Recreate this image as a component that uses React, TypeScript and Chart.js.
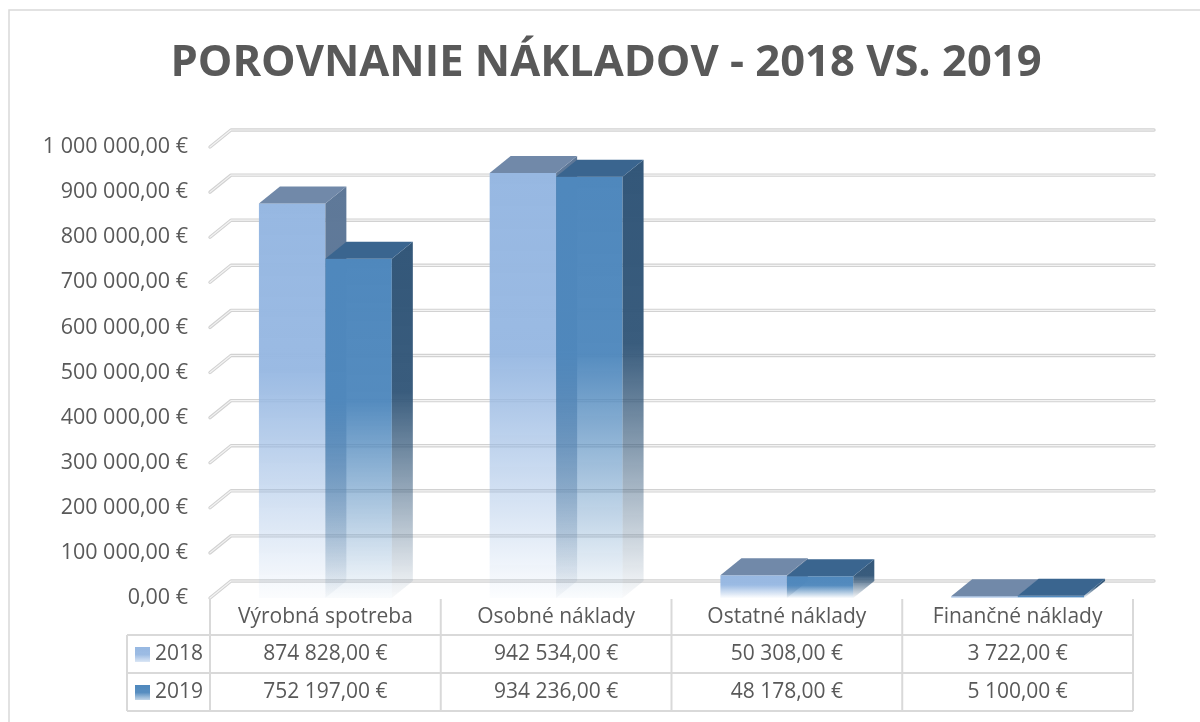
import React, { useEffect, useRef } from "react";
import { Chart, registerables } from "chart.js";

Chart.register(...registerables);

// ---- data ----
const categories = ["Výrobná spotreba", "Osobné náklady", "Ostatné náklady", "Finančné náklady"];
const seriesNames = ["2018", "2019"];
const values2018 = [874828, 942534, 50308, 3722];
const values2019 = [752197, 934236, 48178, 5100];
const yMin = 0;
const yMax = 1000000;
const yStep = 100000;
const chartTitle = "POROVNANIE NÁKLADOV - 2018 VS. 2019";

// ---- style ----
const FONT = "'Open Sans', 'DejaVu Sans', sans-serif";
const TEXT = "#595959";
const DX = 21;
const DY = -17;
const LINE = "#D9D9D9";

const palette = [
  { front: [151, 184, 226], top: "#7189A9", side: [94, 120, 152] },
  { front: [79, 136, 189], top: "#3A658F", side: [51, 87, 121] },
];

function fmtEuro(v: number): string {
  const [i, d] = v.toFixed(2).split(".");
  return i.replace(/\B(?=(\d{3})+(?!\d))/g, " ") + "," + d + " €";
}

function rgba(c: number[], a: number) {
  return `rgba(${c[0]},${c[1]},${c[2]},${a})`;
}

function fadeGradient(ctx: CanvasRenderingContext2D, c: number[], y0: number, y1: number) {
  const g = ctx.createLinearGradient(0, y0, 0, Math.max(y1, y0 + 0.5));
  g.addColorStop(0, rgba(c, 1));
  g.addColorStop(0.42, rgba(c, 0.97));
  g.addColorStop(1, rgba(c, 0.03));
  return g;
}

const threeDPlugin = {
  id: "threeD",
  beforeDatasetsDraw(chart: any) {
    const ctx: CanvasRenderingContext2D = chart.ctx;
    const ys = chart.scales.y;
    const area = chart.chartArea;
    ctx.save();
    // back wall gridlines
    ys.ticks.forEach((t: any) => {
      const py = ys.getPixelForValue(t.value);
      const path = () => {
        ctx.beginPath();
        ctx.moveTo(area.left, py);
        ctx.lineTo(area.left + DX, py + DY);
        ctx.lineTo(area.right + DX, py + DY);
      };
      ctx.lineCap = "round";
      ctx.lineJoin = "round";
      path();
      ctx.strokeStyle = "#D2D2D2";
      ctx.lineWidth = 3.4;
      ctx.stroke();
      path();
      ctx.strokeStyle = "#F3F3F3";
      ctx.lineWidth = 1.2;
      ctx.stroke();
    });
    // bars
    const n = chart.data.labels.length;
    for (let i = 0; i < n; i++) {
      chart.data.datasets.forEach((_ds: any, di: number) => {
        const el = chart.getDatasetMeta(di).data[i];
        const p = el.getProps(["x", "y", "base", "width"], true);
        const l = p.x - p.width / 2;
        const r = p.x + p.width / 2;
        const top = p.y;
        const base = p.base;
        const col = palette[di];
        // front
        ctx.fillStyle = fadeGradient(ctx, col.front, top, base);
        ctx.fillRect(l, top, r - l, base - top);
        // side
        ctx.beginPath();
        ctx.moveTo(r, top);
        ctx.lineTo(r + DX, top + DY);
        ctx.lineTo(r + DX, base + DY);
        ctx.lineTo(r, base);
        ctx.closePath();
        ctx.fillStyle = fadeGradient(ctx, col.side, top + DY, base);
        ctx.fill();
        // top
        ctx.beginPath();
        ctx.moveTo(l, top);
        ctx.lineTo(l + DX, top + DY);
        ctx.lineTo(r + DX, top + DY);
        ctx.lineTo(r, top);
        ctx.closePath();
        ctx.fillStyle = col.top;
        ctx.fill();
      });
    }
    ctx.restore();
    return false;
  },
  afterDraw(chart: any) {
    const ctx: CanvasRenderingContext2D = chart.ctx;
    const area = chart.chartArea;
    const xs = chart.scales.x;
    ctx.save();
    // outer frame (left and top edges visible)
    ctx.strokeStyle = LINE;
    ctx.lineWidth = 1.5;
    ctx.beginPath();
    ctx.moveTo(9, 722);
    ctx.lineTo(9, 10);
    ctx.lineTo(1200, 10);
    ctx.stroke();

    // title
    ctx.fillStyle = TEXT;
    ctx.font = `bold 43.5px ${FONT}`;
    ctx.textAlign = "center";
    ctx.textBaseline = "alphabetic";
    ctx.fillText(chartTitle, 606, 76);

    // data table
    const n = categories.length;
    const half = (xs.getPixelForValue(1) - xs.getPixelForValue(0)) / 2;
    const t0 = area.bottom + 1;
    const r1 = 635;
    const r2 = 673;
    const r3 = 711;
    const legendLeft = 127;
    ctx.strokeStyle = LINE;
    ctx.lineWidth = 2;
    ctx.beginPath();
    for (let i = 0; i <= n; i++) {
      const bx = i < n ? xs.getPixelForValue(i) - half : xs.getPixelForValue(n - 1) + half;
      ctx.moveTo(bx, t0);
      ctx.lineTo(bx, r3);
    }
    ctx.moveTo(legendLeft, r1);
    ctx.lineTo(legendLeft, r3);
    [r1, r2, r3].forEach((yy) => {
      ctx.moveTo(legendLeft, yy);
      ctx.lineTo(xs.getPixelForValue(n - 1) + half, yy);
    });
    ctx.stroke();

    ctx.fillStyle = TEXT;
    ctx.font = `21px ${FONT}`;
    ctx.textAlign = "center";
    ctx.textBaseline = "middle";
    categories.forEach((c, i) => {
      const cx = xs.getPixelForValue(i);
      ctx.fillText(c, cx, 617);
      ctx.fillText(fmtEuro(values2018[i]), cx, 654);
      ctx.fillText(fmtEuro(values2019[i]), cx, 692);
    });
    // legend keys
    [654, 692].forEach((cy, si) => {
      const col = palette[si].front;
      const g = ctx.createLinearGradient(0, cy - 7, 0, cy + 8);
      g.addColorStop(0, rgba(col, 1));
      g.addColorStop(0.5, rgba(col, 0.95));
      g.addColorStop(1, rgba(col, 0.35));
      ctx.fillStyle = g;
      ctx.fillRect(135, cy - 7, 15, 15);
      ctx.fillStyle = TEXT;
      ctx.textAlign = "left";
      ctx.fillText(seriesNames[si], 155, cy);
    });
    ctx.restore();
  },
};

export default function App() {
  const ref = useRef<HTMLCanvasElement | null>(null);
  useEffect(() => {
    if (!ref.current) return;
    const chart = new Chart(ref.current, {
      type: "bar",
      data: {
        labels: categories,
        datasets: [
          { label: seriesNames[0], data: values2018, backgroundColor: "rgba(0,0,0,0)" },
          { label: seriesNames[1], data: values2019, backgroundColor: "rgba(0,0,0,0)" },
        ],
      },
      options: {
        responsive: false,
        animation: false,
        devicePixelRatio: 1,
        layout: { padding: { left: 0, right: 67, top: 147, bottom: 124 } },
        datasets: { bar: { categoryPercentage: 0.576, barPercentage: 1 } },
        scales: {
          x: { display: false },
          y: {
            min: yMin,
            max: yMax,
            afterFit: (s: any) => {
              s.width = 210;
            },
            grid: { display: false, drawTicks: false },
            border: { display: false },
            ticks: {
              stepSize: yStep,
              padding: 22,
              color: TEXT,
              font: { family: FONT, size: 21.5 },
              callback: (v: any) => fmtEuro(Number(v)),
            },
          },
        },
        plugins: {
          legend: { display: false },
          tooltip: { enabled: false },
          title: { display: false },
        },
      },
      plugins: [threeDPlugin],
    } as any);
    return () => chart.destroy();
  }, []);
  return (
    <div style={{ position: "fixed", left: 0, top: 0, width: 1200, height: 722, background: "#fff" }}>
      <canvas ref={ref} width={1200} height={722} />
    </div>
  );
}
